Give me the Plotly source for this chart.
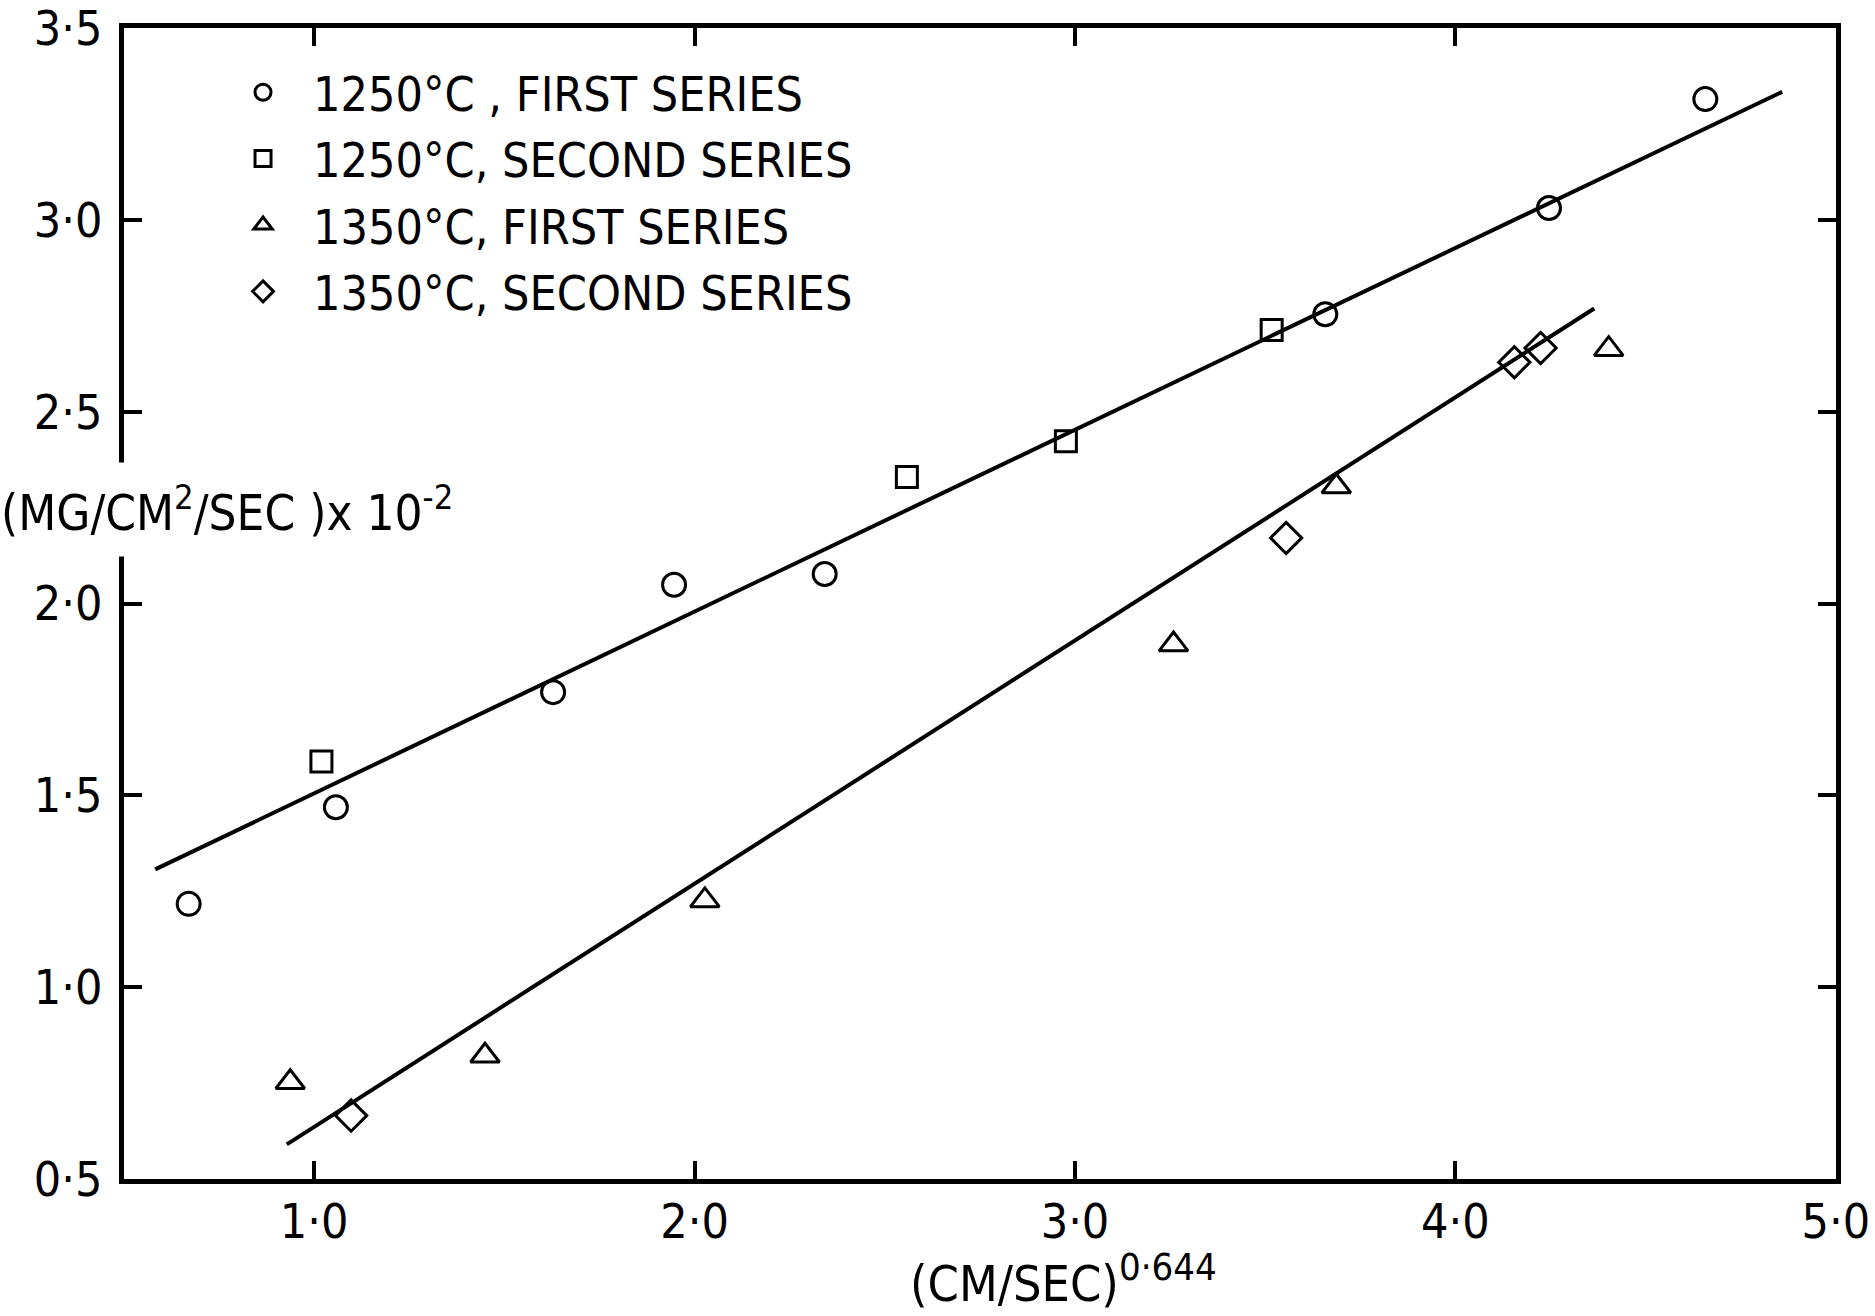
import plotly.graph_objects as go

# ---- data ----
c1250_first_x = [0.670, 1.057, 1.628, 1.946, 2.342, 3.658, 4.246, 4.657]
c1250_first_y = [1.217, 1.469, 1.769, 2.049, 2.077, 2.754, 3.031, 3.315]

c1250_second_x = [1.019, 2.558, 2.976, 3.517]
c1250_second_y = [1.588, 2.330, 2.423, 2.713]

c1350_first_x = [0.937, 1.449, 2.027, 3.259, 3.687, 4.403]
c1350_first_y = [0.752, 0.821, 1.226, 1.893, 2.305, 2.663]

c1350_second_x = [1.097, 3.555, 4.155, 4.224]
c1350_second_y = [0.665, 2.171, 2.629, 2.666]

fit1250_x = [0.582, 4.859]
fit1250_y = [1.307, 3.334]
fit1350_x = [0.928, 4.365]
fit1350_y = [0.590, 2.769]

x_tickvals = [1, 2, 3, 4, 5]
x_ticktext = ["1·0", "2·0", "3·0", "4·0", "5·0"]
y_tickvals = [0.5, 1.0, 1.5, 2.0, 2.5, 3.0, 3.5]
y_ticktext = ["0·5", "1·0", "1·5", "2·0", "2·5", "3·0", "3·5"]

names = ["1250°C , FIRST SERIES", "1250°C, SECOND SERIES",
         "1350°C, FIRST SERIES", "1350°C, SECOND SERIES"]

FONT = "Liberation Sans Narrow, DejaVu Sans Condensed, Liberation Sans, Arial, sans-serif"
INK = "black"

fig = go.Figure()

# fit lines (not in legend)
for fx, fy in [(fit1250_x, fit1250_y), (fit1350_x, fit1350_y)]:
    fig.add_trace(go.Scatter(x=fx, y=fy, mode="lines", showlegend=False,
                             line=dict(color=INK, width=4), hoverinfo="skip"))

series = [
    (c1250_first_x, c1250_first_y, "circle-open", 23),
    (c1250_second_x, c1250_second_y, "square-open", 21),
    (c1350_first_x, c1350_first_y, "triangle-up-open", 25),
    (c1350_second_x, c1350_second_y, "diamond-open", 24),
]
for i, (sx, sy, sym, sz) in enumerate(series):
    fig.add_trace(go.Scatter(
        x=sx, y=sy, mode="markers", name=names[i], legendgroup=f"g{i}",
        marker=dict(symbol=sym, size=sz, color=INK, line=dict(color=INK, width=3)),
    ))

axis_common = dict(
    showline=True, linecolor=INK, linewidth=5, mirror="ticks",
    ticks="inside", ticklen=18, tickwidth=3.5, tickcolor=INK,
    showgrid=False, zeroline=False,
    tickfont=dict(family=FONT, size=48, color=INK),
    ticklabeloverflow="allow",
)

fig.update_xaxes(range=[0.5, 5.0005], tickvals=x_tickvals, ticktext=x_ticktext,
                 ticklabelstandoff=-4, **axis_common)
fig.update_yaxes(range=[0.4997, 3.5004], tickvals=y_tickvals, ticktext=y_ticktext,
                 ticklabelstandoff=7, **axis_common)

# axis titles as annotations
fig.add_annotation(text="(MG/CM<sup>2</sup>/SEC )x 10<sup>-2</sup>", xref="paper", yref="y",
                   x=0.060, y=2.245, showarrow=False, xanchor="center", yanchor="middle",
                   bgcolor="white", font=dict(family=FONT, size=49, color=INK),
                   borderpad=14)
fig.add_annotation(text="(CM/SEC)<sup><span style='font-size:38px'>0·644</span></sup>",
                   xref="x", yref="paper",
                   x=2.97, y=-0.087, showarrow=False, xanchor="center", yanchor="middle",
                   font=dict(family=FONT, size=50, color=INK))

fig.update_layout(
    width=1875, height=1316,
    margin=dict(l=124, r=39, t=28, b=137, autoexpand=False),
    plot_bgcolor="white", paper_bgcolor="white",
    legend=dict(x=0.052, y=0.977, xanchor="left", yanchor="top",
                font=dict(family=FONT, size=48, color=INK),
                traceorder="grouped", tracegroupgap=1,
                bgcolor="rgba(0,0,0,0)", itemwidth=90),
)

fig.write_html("out.html", config={"displayModeBar": False},
               post_script="document.body.style.margin='0';document.body.style.overflow='hidden';")
